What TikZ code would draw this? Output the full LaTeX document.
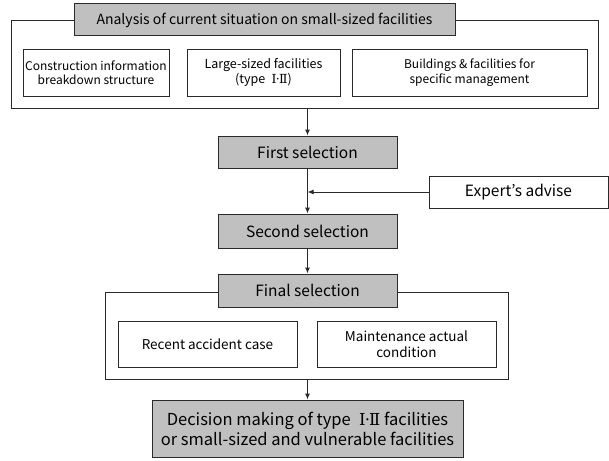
\documentclass[tikz,border=0pt]{standalone}
\usepackage{fontspec}
\setmainfont{Noto Sans CJK KR}
\newfontfamily\numfont{DejaVu Serif}
\newcommand{\typeroman}{\hspace{0.5em}{\numfont Ⅰ\kern-0.05em·\kern-0.05emⅡ}}
\usetikzlibrary{arrows.meta}
\definecolor{boxgray}{HTML}{C0C0C0}
\definecolor{edge}{HTML}{2A2A2A}
\tikzset{
  box/.style={draw=edge, line width=1pt, fill=white, inner sep=0pt, align=center, text=black, font=\fontsize{12}{14.5}\selectfont},
  graybox/.style={box, fill=boxgray, font=\fontsize{15.5}{18}\selectfont},
  frame/.style={draw=edge, line width=1pt, inner sep=0pt},
  arr/.style={draw=edge, line width=1pt, -{Latex[length=6pt,width=5pt]}}
}
\begin{document}
\begin{tikzpicture}[x=1pt,y=-1pt]
\useasboundingbox (0,0) rectangle (609,460);
% top group
\node[frame, minimum width=587pt, minimum height=87pt] (outer1) at (304.5,64.5) {};
\node[graybox, minimum width=381pt, minimum height=32pt, font=\fontsize{14}{17}\selectfont] (top) at (264.5,20) {Analysis of current situation on small-sized facilities};
\node[box, minimum width=146pt, minimum height=47pt] (b1) at (96,72.5) {Construction information\\breakdown structure};
\node[box, minimum width=153pt, minimum height=47pt, font=\fontsize{12.5}{15}\selectfont] (b2) at (263.5,72.5) {Large-sized facilities\\(type\typeroman)};
\node[box, minimum width=235pt, minimum height=47pt] (b3) at (469.5,72.5) {Buildings \& facilities for\\specific management};
% selections
\node[graybox, minimum width=179pt, minimum height=32pt] (first) at (307.5,152) {First selection};
\node[box, minimum width=179pt, minimum height=32pt, font=\fontsize{15.5}{18}\selectfont] (expert) at (518.5,192) {Expert’s advise};
\node[graybox, minimum width=179pt, minimum height=34pt] (second) at (307.5,231) {Second selection};
% final group
\node[frame, minimum width=403pt, minimum height=87pt] (outer2) at (306.5,335.5) {};
\node[graybox, minimum width=179pt, minimum height=33pt] (final) at (307.5,290.5) {Final selection};
\node[box, minimum width=179pt, minimum height=46pt, font=\fontsize{13.5}{16}\selectfont] (r1) at (207.5,344) {Recent accident case};
\node[box, minimum width=179pt, minimum height=46pt, font=\fontsize{13.5}{16}\selectfont] (r2) at (406.5,344) {Maintenance actual\\condition};
\node[graybox, minimum width=311pt, minimum height=57pt, font=\fontsize{16.5}{20}\selectfont] (decision) at (307.5,428.5) {Decision making of type\typeroman{} facilities\\or small-sized and vulnerable facilities};
% connectors
\coordinate (j) at (first.south |- expert.west);
\draw[arr] (first.north |- outer1.south) -- (first.north);
\draw[draw=edge, line width=1pt] (first.south) -- (j);
\draw[arr] (j) -- (second.north);
\draw[arr] (expert.west) -- (j);
\draw[arr] (second.south) -- (final.north);
\draw[arr] (decision.north |- outer2.south) -- (decision.north);
\end{tikzpicture}
\end{document}
